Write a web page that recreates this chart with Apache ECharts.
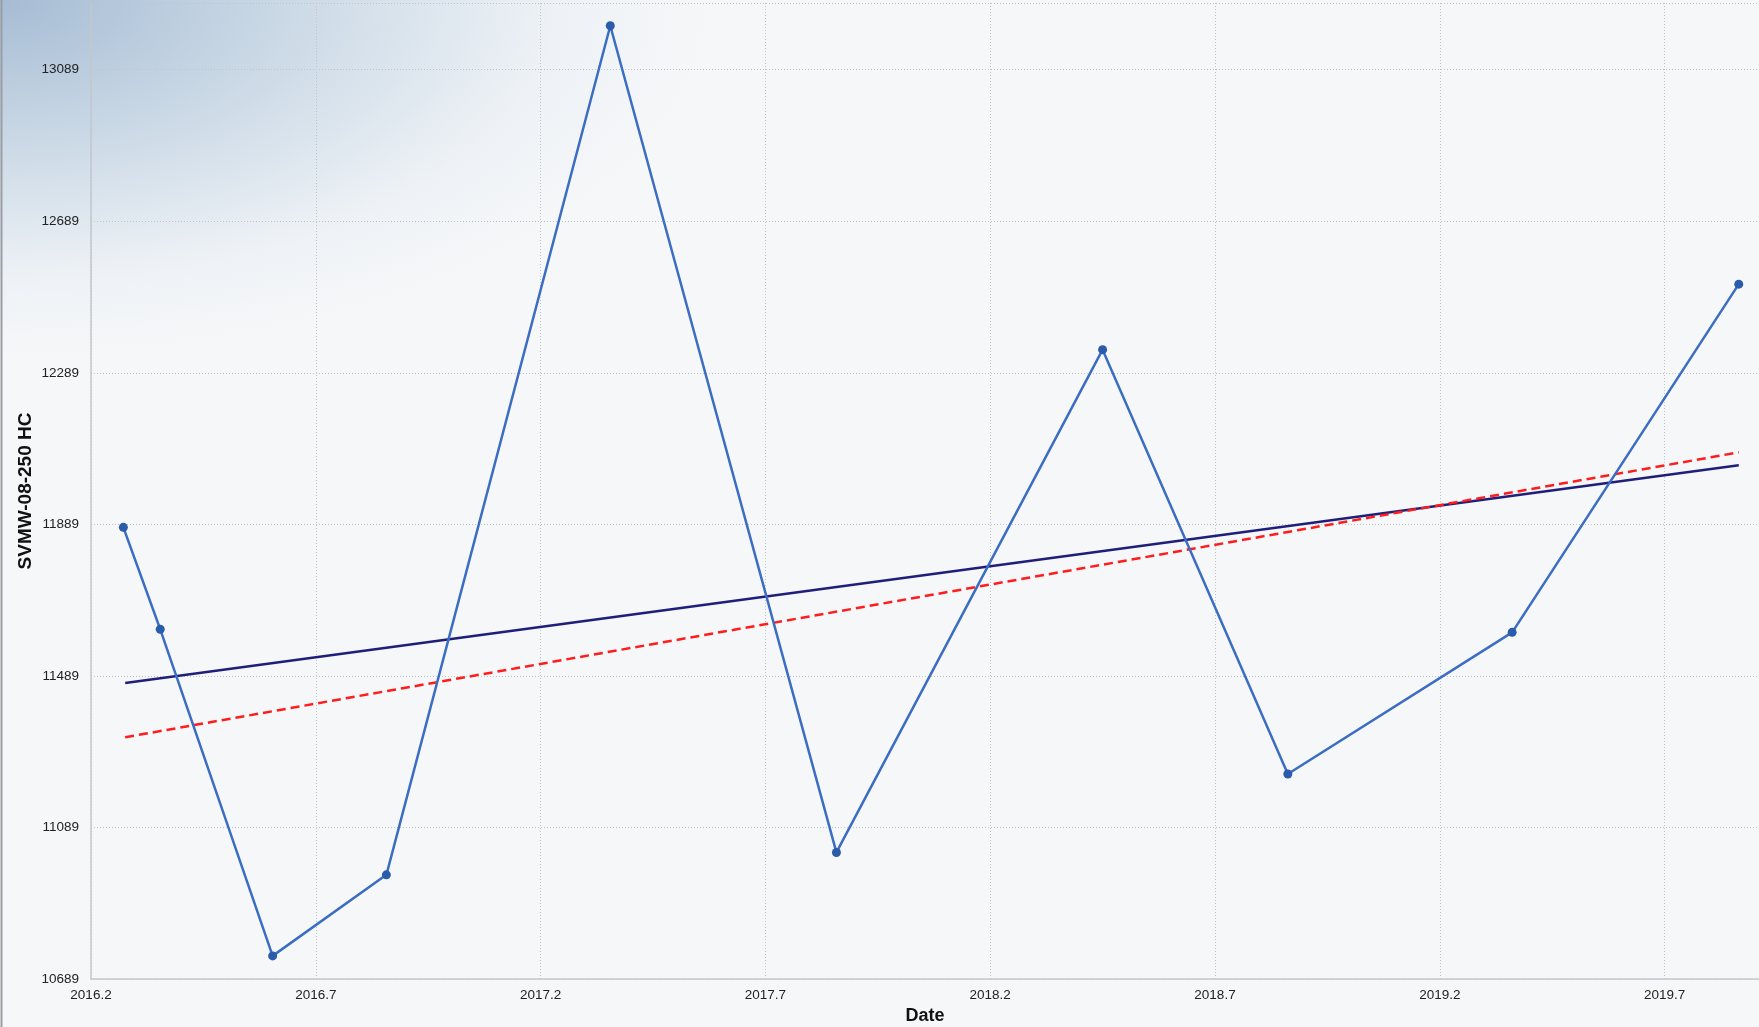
<!DOCTYPE html>
<html>
<head>
<meta charset="utf-8">
<script src="https://cdn.jsdelivr.net/npm/echarts@6/dist/echarts.min.js"></script>
<style>
  html, body { margin: 0; padding: 0; background: #f6f7f9; }
  #main { width: 1759px; height: 1027px; }
</style>
</head>
<body>
<div id="main"></div>
<script>
// measured values (decimal year, reading)
const dates = [2016.272, 2016.354, 2016.604, 2016.857, 2017.355, 2017.858, 2018.450, 2018.862, 2019.361, 2019.865]
const readings = [11881, 11612, 10750, 10964, 13205, 11023, 12350, 11230, 11604, 12523]

// two trend lines, endpoints
const trendDates = [2016.276, 2019.865]
const trendSolid = [11470, 12045]
const trendDashed = [11327, 12079]

const yMin = 10689, yMax = 13265, yStep = 400
const xMin = 2016.2, xMax = 2019.91, xStep = 0.5

const pairs = (xs, ys) => xs.map((x, i) => [x, ys[i]])

var myChart = echarts.init(document.getElementById('main'))

var option = {
    animation: false,
    backgroundColor: '#f6f7f9',
    graphic: [
        {
            // blue-ish glow in the top-left corner
            type: 'rect',
            z: -10,
            silent: true,
            scaleY: 0.5,
            shape: { x: 0, y: 0, width: 1759, height: 2054 },
            style: {
                fill: {
                    type: 'radial', x: 0, y: 0, r: 720, global: true,
                    colorStops: [
                        { offset: 0, color: '#a6bcd4' },
                        { offset: 0.4, color: '#cbd9e6' },
                        { offset: 0.78, color: '#eef2f6' },
                        { offset: 1, color: '#f6f7f9' }
                    ]
                }
            }
        },
        {
            type: 'line',
            silent: true,
            shape: { x1: 1.5, y1: 0, x2: 1.5, y2: 1027 },
            style: { stroke: '#9a9ea4', lineWidth: 2 }
        }
    ],
    grid: { left: 91, right: 0, top: 3, bottom: 48, containLabel: false, outerBoundsMode: 'none' },
    xAxis: {
        type: 'value',
        min: xMin,
        max: xMax,
        interval: xStep,
        name: 'Date',
        nameLocation: 'middle',
        nameGap: 28,
        nameTextStyle: { fontFamily: 'Liberation Sans', fontWeight: 'bold', fontSize: 18, color: '#111' },
        axisLine: { lineStyle: { color: '#c3c7cc', width: 1.5 } },
        axisTick: { show: false },
        axisLabel: {
            showMaxLabel: false,
            margin: 9,
            fontFamily: 'Liberation Sans',
            fontSize: 13.5,
            color: '#222',
            formatter: (v) => v.toFixed(1)
        },
        splitLine: { show: true, lineStyle: { color: '#bfc4ca', type: [1, 2], width: 1 } }
    },
    yAxis: {
        type: 'value',
        min: yMin,
        max: yMax,
        interval: yStep,
        name: 'SVMW-08-250 HC',
        nameLocation: 'middle',
        nameGap: 56,
        nameMoveOverlap: false,
        nameTextStyle: { fontFamily: 'Liberation Sans', fontWeight: 'bold', fontSize: 19, color: '#111' },
        axisLine: { show: true, lineStyle: { color: '#c3c7cc', width: 1.5 } },
        axisTick: { show: false },
        axisLabel: {
            showMaxLabel: false,
            margin: 12,
            fontFamily: 'Liberation Sans',
            fontSize: 13.5,
            color: '#222',
            formatter: (v) => String(Math.round(v))
        },
        splitLine: { show: true, lineStyle: { color: '#bfc4ca', type: [1, 2], width: 1 } }
    },
    series: [
        {
            name: 'trend',
            type: 'line',
            data: pairs(trendDates, trendSolid),
            symbol: 'none',
            lineStyle: { color: '#1f1f7a', width: 2.5 },
            z: 3
        },
        {
            name: 'fit',
            type: 'line',
            data: pairs(trendDates, trendDashed),
            symbol: 'none',
            lineStyle: { color: '#ff1c1c', width: 2.5, type: [9, 5] },
            z: 3
        },
        {
            name: 'SVMW-08-250 HC',
            type: 'line',
            data: pairs(dates, readings),
            symbol: 'circle',
            symbolSize: 9,
            lineStyle: { color: '#3b6dc2', width: 2.5 },
            itemStyle: { color: '#2b5cab' },
            z: 4
        }
    ]
}

myChart.setOption(option)
</script>
</body>
</html>
